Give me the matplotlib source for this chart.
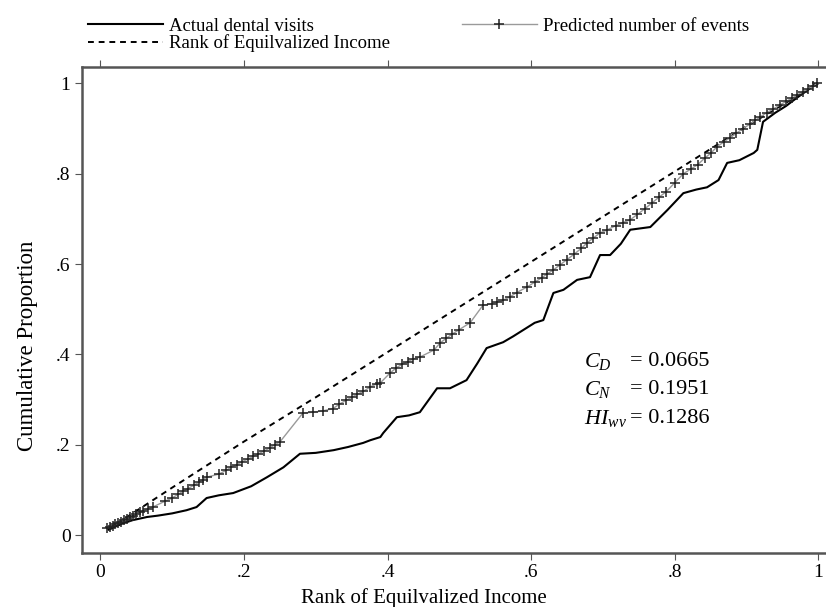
import matplotlib
matplotlib.use('Agg')
import matplotlib.pyplot as plt

plt.rcParams['font.family'] = ['Liberation Serif', 'DejaVu Serif']
plt.rcParams['mathtext.fontset'] = 'custom'
plt.rcParams['mathtext.it'] = 'Liberation Serif:italic'
plt.rcParams['mathtext.rm'] = 'Liberation Serif'

# actual dental visits (solid)
actual_x = [0.012, 0.02, 0.03, 0.045, 0.065, 0.08, 0.1, 0.12, 0.134, 0.148, 0.165, 0.185,
            0.21, 0.232, 0.255, 0.278, 0.3, 0.325, 0.345, 0.366, 0.376, 0.39, 0.394, 0.413,
            0.43, 0.445, 0.469, 0.487, 0.51, 0.525, 0.538, 0.561, 0.575, 0.589, 0.605, 0.617,
            0.631, 0.645, 0.664, 0.682, 0.696, 0.71, 0.725, 0.738, 0.766, 0.79, 0.812, 0.83,
            0.845, 0.861, 0.873, 0.89, 0.91, 0.915, 0.923, 0.94, 0.955, 0.97, 0.985, 0.995]
actual_y = [0.012, 0.018, 0.025, 0.033, 0.04, 0.043, 0.048, 0.055, 0.062, 0.082, 0.088, 0.093,
            0.108, 0.128, 0.15, 0.18, 0.182, 0.188, 0.195, 0.204, 0.21, 0.217, 0.226, 0.261,
            0.265, 0.272, 0.325, 0.325, 0.343, 0.38, 0.414, 0.427, 0.44, 0.454, 0.47, 0.476,
            0.536, 0.543, 0.565, 0.571, 0.62, 0.62, 0.645, 0.676, 0.682, 0.72, 0.757, 0.765,
            0.77, 0.786, 0.824, 0.83, 0.846, 0.853, 0.915, 0.935, 0.95, 0.968, 0.985, 0.998]

# rank of equilvalized income (dashed)
rank_x = [0.01, 0.1, 0.2, 0.3, 0.4, 0.5, 0.6, 0.7, 0.8, 0.9, 1.0]
rank_y = [0.012, 0.105, 0.207, 0.305, 0.405, 0.505, 0.605, 0.705, 0.805, 0.905, 1.0]

# predicted number of events (gray with + markers)
pred_x = [0.009, 0.013, 0.017, 0.021, 0.025, 0.029, 0.033, 0.037, 0.041, 0.045, 0.05, 0.055,
          0.06, 0.066, 0.073, 0.09, 0.1, 0.108, 0.115, 0.122, 0.13, 0.137, 0.143, 0.148,
          0.165, 0.175, 0.182, 0.19, 0.197, 0.205, 0.213, 0.22, 0.228, 0.236, 0.243, 0.25,
          0.282, 0.296, 0.31, 0.324, 0.333, 0.342, 0.35, 0.358, 0.366, 0.376, 0.385, 0.39,
          0.403, 0.412, 0.42, 0.428, 0.436, 0.445, 0.465, 0.473, 0.482, 0.49, 0.5, 0.515,
          0.533, 0.545, 0.553, 0.561, 0.57, 0.58, 0.594, 0.605, 0.615, 0.622, 0.631, 0.64,
          0.65, 0.66, 0.67, 0.678, 0.686, 0.696, 0.705, 0.718, 0.728, 0.738, 0.748, 0.758,
          0.768, 0.778, 0.788, 0.8, 0.812, 0.822, 0.832, 0.842, 0.85, 0.859, 0.868, 0.877,
          0.886, 0.895, 0.905, 0.912, 0.919, 0.928, 0.937, 0.946, 0.955, 0.963, 0.971, 0.979,
          0.986, 0.993, 0.998]
pred_y = [0.015, 0.018, 0.021, 0.024, 0.027, 0.03, 0.033, 0.036, 0.039, 0.042, 0.046, 0.05,
          0.054, 0.058, 0.062, 0.075, 0.082, 0.09, 0.097, 0.103, 0.11, 0.117, 0.123, 0.128,
          0.135, 0.143, 0.15, 0.156, 0.162, 0.168, 0.174, 0.18, 0.186, 0.193, 0.2, 0.206,
          0.27, 0.272, 0.275, 0.28, 0.29, 0.298, 0.305, 0.312, 0.318, 0.328, 0.335, 0.337,
          0.358, 0.37, 0.378, 0.384, 0.39, 0.394, 0.41, 0.425, 0.436, 0.445, 0.455, 0.47,
          0.509, 0.512, 0.516, 0.52, 0.527, 0.537, 0.549, 0.56, 0.57, 0.578, 0.587, 0.598,
          0.61, 0.622, 0.635, 0.647, 0.657, 0.669, 0.675, 0.685, 0.692, 0.698, 0.71, 0.722,
          0.735, 0.748, 0.76, 0.78, 0.8, 0.81, 0.82, 0.835, 0.845, 0.86, 0.87, 0.88,
          0.89, 0.9, 0.91, 0.918, 0.926, 0.935, 0.943, 0.952, 0.96, 0.967, 0.975, 0.982,
          0.988, 0.994, 1.0]

ticks = [0, 0.2, 0.4, 0.6, 0.8, 1]
tick_labels = ['0', '.2', '.4', '.6', '.8', '1']

stat_names = [r'$C_{D}$', r'$C_{N}$', r'$HI_{wv}$']
stat_values = ['= 0.0665', '= 0.1951', '= 0.1286']

fig = plt.figure(figsize=(8.26, 6.07), dpi=100)
ax = fig.add_axes([0.0989, 0.0895, 0.9144, 0.8006])

l1, = ax.plot(actual_x, actual_y, color='black', lw=1.5)
l2, = ax.plot(rank_x, rank_y, color='black', lw=1.4, ls=(0, (3, 2.5)))
l3, = ax.plot(pred_x, pred_y, color='#9a9a9a', lw=1.0, marker='+', ms=7,
              mec='#222222', mew=1.1)

ax.set_xlim(-0.026, 1.026)
ax.set_ylim(-0.039, 1.037)
ax.set_xticks(ticks)
ax.set_xticklabels(tick_labels)
ax.set_yticks(ticks)
ax.set_yticklabels(tick_labels)
ax.tick_params(direction='out', length=5, width=0.8, color='#555555',
               labelsize=14, top=True, right=True, pad=3)
for sp in ax.spines.values():
    sp.set_linewidth(1.8)
    sp.set_color('#555555')

ax.set_xlabel('Rank of Equilvalized Income', fontsize=15)
ax.xaxis.set_label_coords(0.4525, -0.072)
ax.set_ylabel('Cumulative Proportion', fontsize=16.5)
ax.yaxis.set_label_coords(-0.058, 0.425)

for i in range(3):
    yy = 0.385 - i * 0.063
    ax.text(0.674, yy, stat_names[i], fontsize=16, va='center', ha='left')
    ax.text(0.738, yy, stat_values[i], fontsize=16, va='center', ha='left')

fig.legend([l1, l2, l3],
           ['Actual dental visits', 'Rank of Equilvalized Income', 'Predicted number of events'],
           loc='upper left', bbox_to_anchor=(0.088, 0.996), ncol=2, frameon=False,
           fontsize=13.5, handlelength=4.0, handletextpad=0.35, labelspacing=0.0,
           columnspacing=3.8, numpoints=1, borderpad=0.3)

fig.savefig('out.png', dpi=100)
